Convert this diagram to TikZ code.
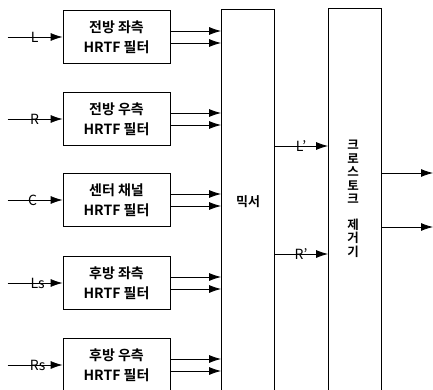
\documentclass[tikz,border=0pt]{standalone}
\usepackage{fontspec}
\setmainfont{Noto Sans CJK KR}[BoldFont={Noto Sans CJK KR Bold}]
\usetikzlibrary{arrows.meta,calc}
\tikzset{
  filt/.style={draw, line width=0.8pt, minimum width=107pt, minimum height=53pt, inner sep=0pt, align=center, font=\fontsize{14}{20}\selectfont\bfseries},
  tall/.style={draw, line width=0.8pt, minimum width=53pt, minimum height=400pt, inner sep=0pt, anchor=north},
  arr/.style={line width=0.8pt, -{Latex[length=12pt,width=8pt]}},
  lab/.style={font=\fontsize{14}{16}\selectfont, inner sep=0pt}
}
\begin{document}
\begin{tikzpicture}[x=1pt,y=-1pt]
\useasboundingbox (0,0) rectangle (433,390);
\clip (0,0) rectangle (433,390);
% filter boxes
\node[filt] (f1) at (116.5,37) {전방 좌측\\HRTF 필터};
\node[filt] (f2) at (116.5,119) {전방 우측\\HRTF 필터};
\node[filt] (f3) at (116.5,200) {센터 채널\\HRTF 필터};
\node[filt] (f4) at (116.5,283) {후방 좌측\\HRTF 필터};
\node[filt] (f5) at (116.5,365) {후방 우측\\HRTF 필터};
% mixer and crosstalk canceller
\node[tall] (mix) at (248,9) {};
\node[font=\fontsize{13}{15}\selectfont\bfseries] (mixt) at (248,202) {믹서};
\node[font=\fontsize{12.5}{13.5}\selectfont\bfseries, align=center] (xtt) at (353,199) {크\\로\\스\\토\\크\\[12pt]제\\거\\기};
\node[tall] (xt) at (355,8) {};
% inputs
\foreach \i/\t/\lx in {1/L/35,2/R/35,3/C/33,4/Ls/38,5/Rs/38} {
  \coordinate (in\i) at ($(f\i.west)+(-55,0)$);
  \draw[arr] (in\i) -- (f\i.west);
  \node[lab] (il\i) at ($(f\i.west)+(\lx-63,0)$) {\t};
  \coordinate (a\i) at ($(f\i.east)+(0,-6)$);
  \coordinate (b\i) at ($(f\i.east)+(0,6)$);
  \draw[arr] (a\i) -- (a\i -| mix.west);
  \draw[arr] (b\i) -- (b\i -| mix.west);
}
% mixer outputs
\coordinate (lp) at (274,146);
\coordinate (rp) at (274,254);
\draw[arr] (mix.east |- lp) -- (xt.west |- lp);
\draw[arr] (mix.east |- rp) -- (xt.west |- rp);
\node[lab] (lpl) at (301,146) {L’};
\node[lab] (rpl) at (301,254) {R’};
% crosstalk outputs
\coordinate (o1) at (433,173);
\coordinate (o2) at (433,227);
\draw[arr] (xt.east |- o1) -- (o1);
\draw[arr] (xt.east |- o2) -- (o2);
\end{tikzpicture}
\end{document}
